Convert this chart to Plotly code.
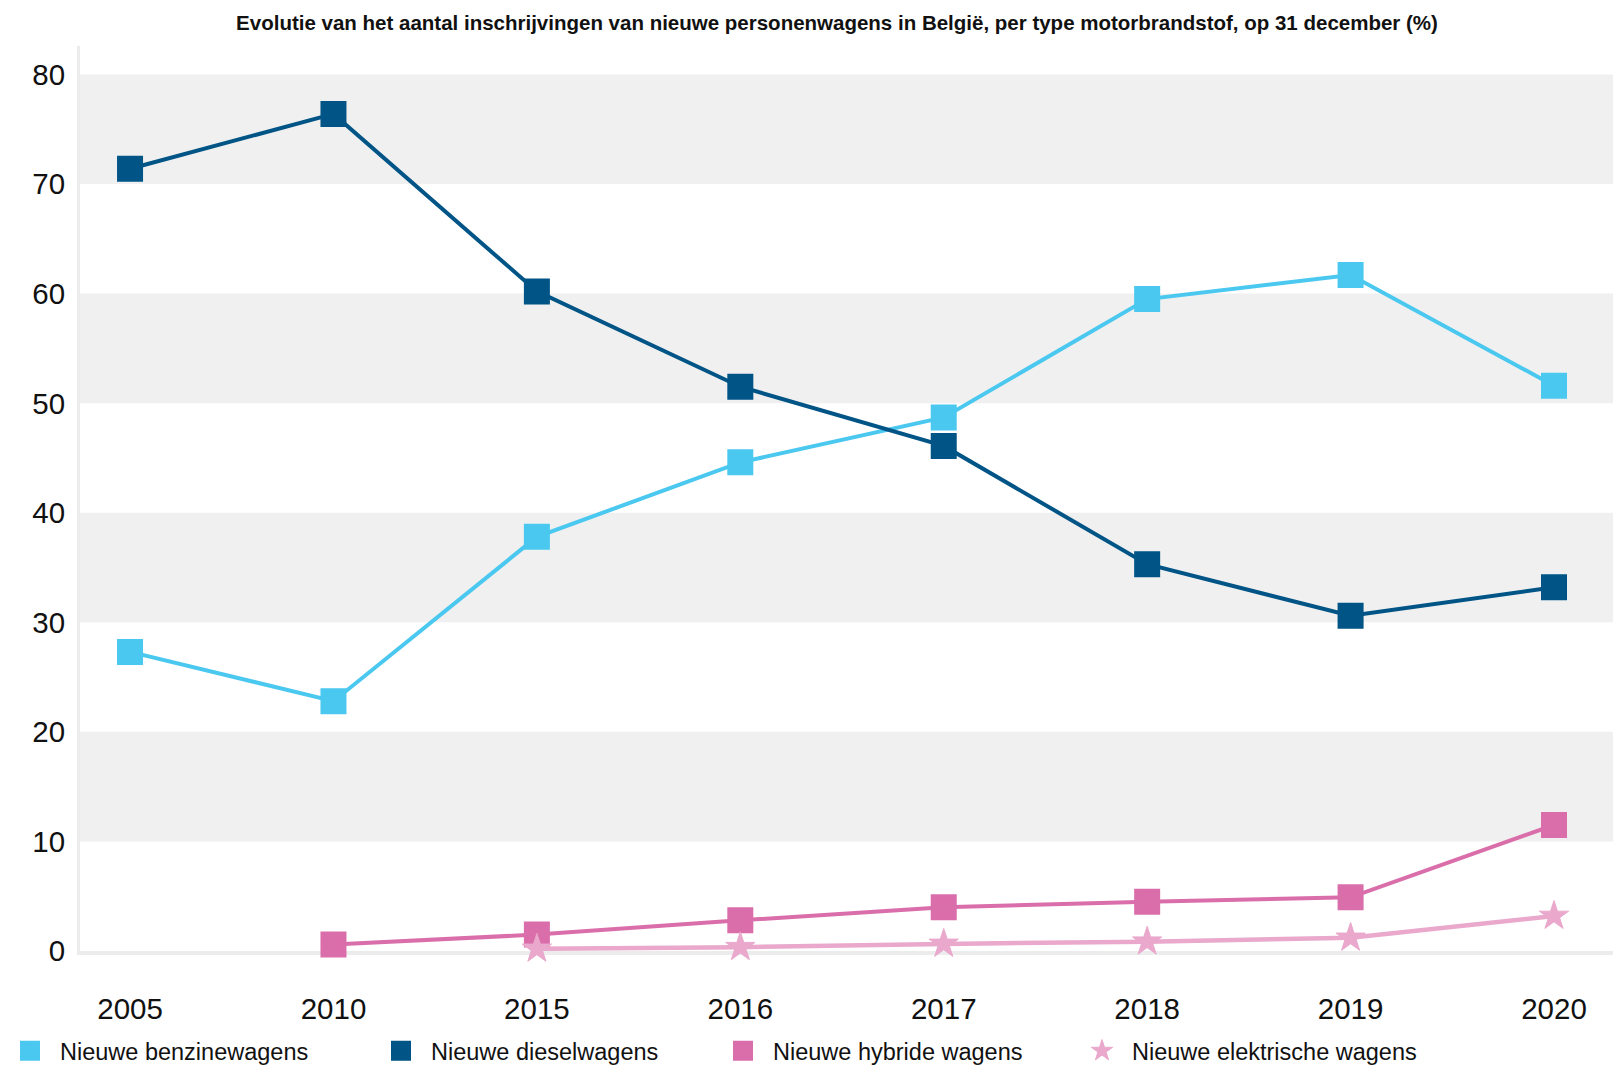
import plotly.graph_objects as go

years = ["2005", "2010", "2015", "2016", "2017", "2018", "2019", "2020"]
benzine = [27.3, 22.8, 37.8, 44.6, 48.7, 59.5, 61.7, 51.6]
diesel = [71.4, 76.4, 60.2, 51.5, 46.1, 35.3, 30.6, 33.2]
hybride = [None, 0.6, 1.5, 2.8, 4.0, 4.5, 4.9, 11.5]
elektrisch = [None, None, 0.2, 0.35, 0.65, 0.85, 1.2, 3.2]
y_ticks = [0, 10, 20, 30, 40, 50, 60, 70, 80]

series = [
    ("Nieuwe benzinewagens", benzine, "#4ac8ef", "square", 22, 4, 4),
    ("Nieuwe dieselwagens", diesel, "#015486", "square", 22, 4, 4),
    ("Nieuwe hybride wagens", hybride, "#da6eaa", "square", 22, 4, 4),
    ("Nieuwe elektrische wagens", elektrisch, "#e9a8cc", "star", 22, 1, 4.5),
]

FONT = "Liberation Sans, Arial, sans-serif"
fig = go.Figure()
legend_x = [-6, 371, 713, 1072]
for i, (name, vals, color, sym, size, lw, linew) in enumerate(series):
    lname = "legend" if i == 0 else f"legend{i+1}"
    fig.add_trace(go.Scatter(x=years, y=vals, mode="lines", name=name,
                             line=dict(color=color, width=linew),
                             showlegend=False, hoverinfo="skip", connectgaps=False))
    fig.add_trace(go.Scatter(x=years, y=vals, mode="markers", name=name,
                             marker=dict(symbol=sym, size=size, color=color,
                                         line=dict(color=color, width=lw)),
                             cliponaxis=False, legend=lname))

shapes = []
for lo, hi in zip(y_ticks[1::2], y_ticks[2::2]):
    shapes.append(dict(type="rect", xref="paper", x0=0, x1=1, yref="y", y0=lo, y1=hi,
                       fillcolor="#f0f0f0", line=dict(width=0), layer="below"))

layout_legends = {}
for i, lx in enumerate(legend_x):
    key = "legend" if i == 0 else f"legend{i+1}"
    layout_legends[key] = dict(
        xref="paper", yref="container", x=(lx - 80) / 1533, y=1 - 1051 / 1065,
        xanchor="left", yanchor="middle", orientation="h",
        font=dict(family=FONT, size=23.5, color="#111111"),
        bgcolor="rgba(0,0,0,0)", itemwidth=50,
    )

fig.update_layout(
    width=1613, height=1065,
    margin=dict(l=80, r=0, t=46, b=113.5),
    paper_bgcolor="white", plot_bgcolor="white",
    shapes=shapes,
    title=dict(text="<b>Evolutie van het aantal inschrijvingen van nieuwe personenwagens in België, per type motorbrandstof, op 31 december (%)</b>",
               x=(837 - 80) / 1533, xref="paper", xanchor="center",
               y=1 - 23 / 1065, yref="container", yanchor="middle",
               font=dict(family=FONT, size=20.5, color="#111111")),
    xaxis=dict(type="category", categoryorder="array", categoryarray=years,
               range=[-0.246, 7.29], showgrid=False, zeroline=False,
               showline=True, linecolor="#ececec", linewidth=4, layer="below traces",
               ticks="outside", ticklen=29, tickcolor="rgba(0,0,0,0)",
               tickfont=dict(family=FONT, size=29.5, color="#111111")),
    yaxis=dict(range=[0, 82.6], tickvals=y_ticks, showgrid=False, zeroline=False,
               showline=True, linecolor="#ececec", linewidth=3, layer="below traces",
               ticks="outside", ticklen=6, tickcolor="rgba(0,0,0,0)",
               tickfont=dict(family=FONT, size=29.5, color="#111111")),
    **layout_legends,
)

fig.write_html("out.html", config={"displayModeBar": False},
               post_script="document.body.style.margin='0';document.body.style.overflow='hidden';")
